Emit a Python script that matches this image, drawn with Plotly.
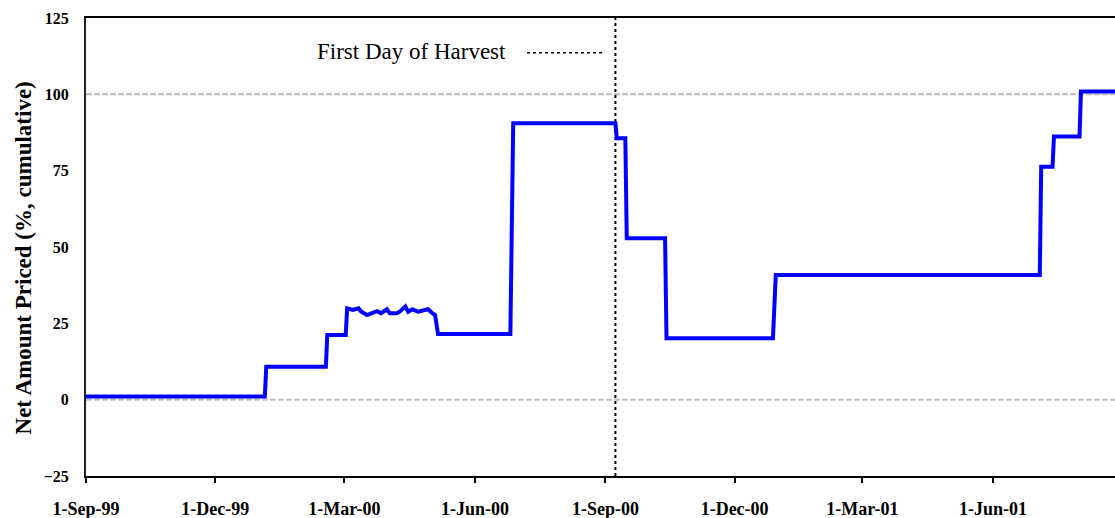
import plotly.graph_objects as go

# ---- data ----
dates = ["1999-09-01", "2000-01-05", "2000-01-06", "2000-02-17", "2000-02-18",
         "2000-03-02", "2000-03-03", "2000-03-07", "2000-03-11", "2000-03-13",
         "2000-03-17", "2000-03-20", "2000-03-24", "2000-03-27", "2000-03-31",
         "2000-04-02", "2000-04-07", "2000-04-09", "2000-04-13", "2000-04-15",
         "2000-04-18", "2000-04-22", "2000-04-26", "2000-04-29", "2000-05-02",
         "2000-05-04", "2000-05-06", "2000-06-26", "2000-06-28", "2000-09-08",
         "2000-09-09", "2000-09-15", "2000-09-16", "2000-10-13", "2000-10-14",
         "2000-12-28", "2000-12-30", "2001-07-04", "2001-07-05", "2001-07-13",
         "2001-07-14", "2001-08-01", "2001-08-02", "2001-08-26"]
net_priced = [1.0, 1.0, 10.8, 10.8, 21.2,
              21.2, 29.9, 29.4, 29.9, 28.8,
              27.7, 28.3, 29.0, 28.3, 29.6,
              28.3, 28.3, 28.8, 30.5, 28.8,
              29.6, 28.8, 29.2, 29.6, 28.3,
              27.7, 21.5, 21.5, 90.5, 90.5,
              85.6, 85.6, 52.9, 52.9, 20.1,
              20.1, 40.8, 40.8, 76.3, 76.3,
              86.2, 86.2, 100.9, 100.9]

harvest_date = "2000-09-08"
harvest_label = "First Day of Harvest"

x_tick_vals = ["1999-09-01", "1999-12-01", "2000-03-01", "2000-06-01",
               "2000-09-01", "2000-12-01", "2001-03-01", "2001-06-01"]
x_tick_text = ["1-Sep-99", "1-Dec-99", "1-Mar-00", "1-Jun-00",
               "1-Sep-00", "1-Dec-00", "1-Mar-01", "1-Jun-01"]
y_tick_vals = [-25, 0, 25, 50, 75, 100, 125]
y_gridlines = [0, 100]
x_range = ["1999-09-01", "2001-08-26"]
y_range = [-25, 125]
y_title = "Net Amount Priced (%, cumulative)"

FONT = "Liberation Serif, Times New Roman, serif"

fig = go.Figure()

for g in y_gridlines:
    fig.add_hline(y=g, line=dict(color="#BFBFBF", width=2, dash="6px,2px"),
                  layer="below")

fig.add_trace(go.Scatter(
    x=[harvest_date, harvest_date], y=y_range, mode="lines",
    line=dict(color="black", width=2, dash="dot"), showlegend=False,
    hoverinfo="skip"))

fig.add_trace(go.Scatter(
    x=dates, y=net_priced, mode="lines",
    line=dict(color="#0000FF", width=4), showlegend=False))

# legend replica: text then dotted sample line
fig.add_annotation(x=0.41, y=0.9264, xref="paper", yref="paper",
                   text=harvest_label, showarrow=False, xanchor="right",
                   yanchor="middle", font=dict(family=FONT, size=23, color="black"))
fig.add_shape(type="line", xref="paper", yref="paper",
              x0=0.4286, x1=0.5044, y0=0.9242, y1=0.9242,
              line=dict(color="black", width=1.5, dash="dot"))

fig.add_annotation(x=-0.0612, y=0.475, xref="paper", yref="paper",
                   text=y_title, showarrow=False, textangle=-90,
                   xanchor="center", yanchor="middle",
                   font=dict(family=FONT, size=23, color="black", weight="bold"))

fig.update_layout(
    width=1115, height=518,
    margin=dict(l=86, r=0, t=18, b=42, autoexpand=False),
    plot_bgcolor="white", paper_bgcolor="white",
    font=dict(family=FONT, color="black"),
    showlegend=False,
    xaxis=dict(type="date", range=x_range, tickvals=x_tick_vals,
               ticktext=x_tick_text, ticks="outside", ticklen=5, tickwidth=2,
               tickcolor="black", showline=True, linecolor="black", linewidth=2,
               mirror=True, showgrid=False, zeroline=False, automargin=False,
               ticklabelstandoff=10,
               tickfont=dict(family=FONT, size=18, color="black", weight="bold")),
    yaxis=dict(range=y_range, tickvals=y_tick_vals, ticks="", showline=True,
               linecolor="#222222", linewidth=2, showgrid=False, zeroline=False,
               automargin=False, ticklabelstandoff=12,
               tickfont=dict(family=FONT, size=16, color="black", weight="bold")),
)

fig.write_html("out.html", config={"displayModeBar": False},
               post_script="document.body.style.margin='0px';document.body.style.overflow='hidden';")
